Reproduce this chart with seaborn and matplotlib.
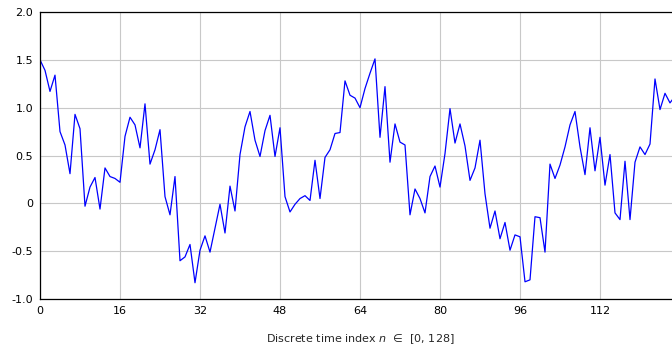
import numpy as np
import pandas as pd
import matplotlib
matplotlib.use("Agg")
import matplotlib.pyplot as plt
import seaborn as sns

n_index = list(range(0, 129))
signal = [
    1.50, 1.39, 1.17, 1.34, 0.75, 0.61, 0.31, 0.93, 0.78, -0.03,
    0.17, 0.27, -0.06, 0.37, 0.28, 0.26, 0.22, 0.70, 0.90, 0.82,
    0.58, 1.04, 0.41, 0.56, 0.77, 0.07, -0.12, 0.28, -0.60, -0.56,
    -0.43, -0.83, -0.49, -0.34, -0.51, -0.26, -0.01, -0.31, 0.18, -0.08,
    0.51, 0.80, 0.96, 0.66, 0.49, 0.76, 0.92, 0.49, 0.79, 0.07,
    -0.09, -0.01, 0.05, 0.08, 0.03, 0.45, 0.05, 0.48, 0.56, 0.73,
    0.74, 1.28, 1.13, 1.10, 1.00, 1.20, 1.36, 1.51, 0.69, 1.22,
    0.43, 0.83, 0.64, 0.61, -0.12, 0.15, 0.05, -0.10, 0.28, 0.39,
    0.17, 0.52, 0.99, 0.63, 0.83, 0.60, 0.24, 0.37, 0.66, 0.10,
    -0.26, -0.08, -0.37, -0.20, -0.49, -0.33, -0.35, -0.82, -0.80, -0.14,
    -0.15, -0.51, 0.41, 0.26, 0.40, 0.59, 0.82, 0.96, 0.59, 0.30,
    0.79, 0.34, 0.69, 0.19, 0.51, -0.10, -0.17, 0.44, -0.17, 0.43,
    0.59, 0.51, 0.62, 1.30, 0.98, 1.15, 1.05, 1.12, 1.00,
]
x_ticks = [0, 16, 32, 48, 64, 80, 96, 112]
y_ticks = [-1.0, -0.5, 0.0, 0.5, 1.0, 1.5, 2.0]
y_tick_labels = ["-1.0", "-0.5", "0", "0.5", "1.0", "1.5", "2.0"]

df = pd.DataFrame({"n": n_index, "x": signal})

sns.set_style("white")
plt.rcParams["font.family"] = ["DejaVu Sans"]

fig = plt.figure(figsize=(6.72, 3.48), dpi=100)
ax = fig.add_axes([40 / 672, 49 / 348, 640 / 672, 287 / 348])

sns.lineplot(data=df, x="n", y="x", ax=ax, color="#0000ff", linewidth=0.9)

ax.set_xlim(0, 128)
ax.set_ylim(-1.0, 2.0)
ax.set_xticks(x_ticks)
ax.set_xticklabels([str(t) for t in x_ticks], fontsize=8)
ax.set_yticks(y_ticks)
ax.set_yticklabels(y_tick_labels, fontsize=8)
ax.grid(True, color="#c8c8c8", linewidth=0.8)
ax.set_axisbelow(True)
ax.tick_params(axis="both", direction="in", length=3, color="#888888",
               width=0.8, pad=5, labelcolor="black")
for side in ["left", "bottom", "top", "right"]:
    ax.spines[side].set_color("black")
    ax.spines[side].set_linewidth(0.9)
ax.set_xlabel("Discrete time index $n$  \u2208  [0, 128]", fontsize=8, labelpad=12)
ax.set_ylabel("")

fig.savefig("out.png", dpi=100)
